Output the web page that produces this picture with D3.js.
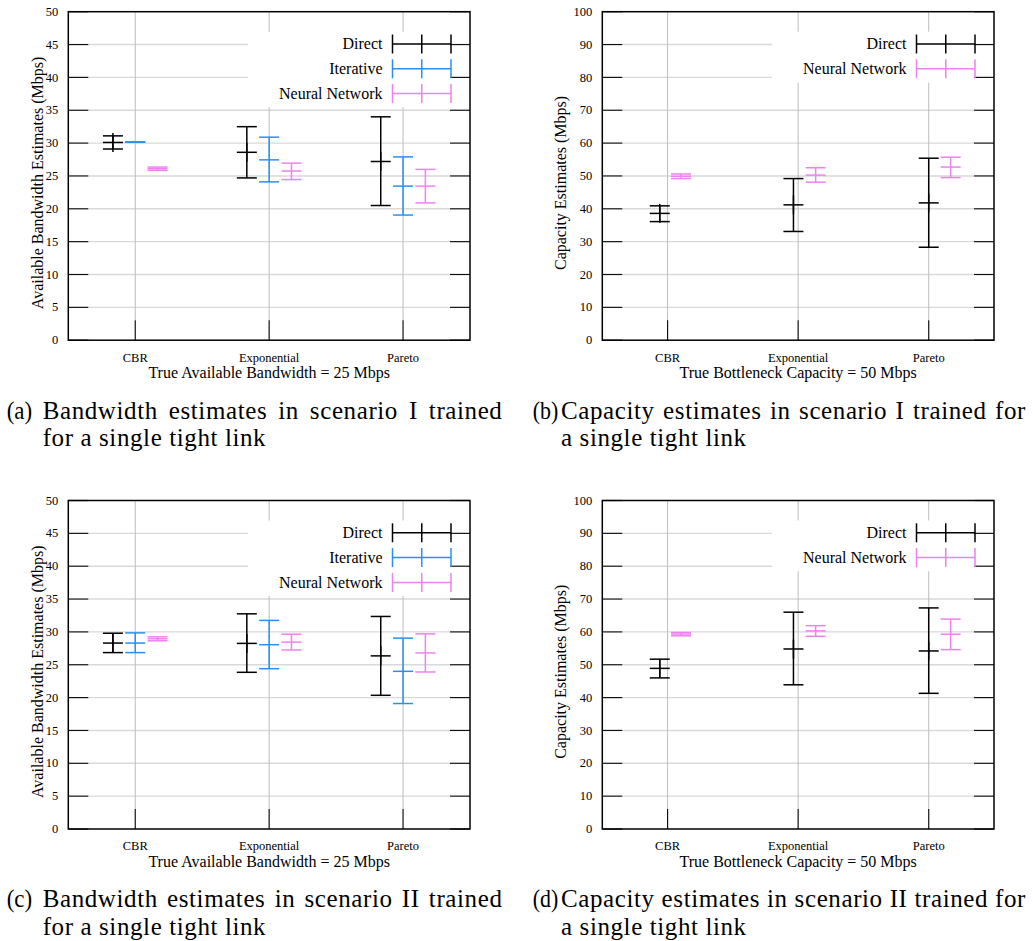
<!DOCTYPE html>
<html><head><meta charset="utf-8">
<script src="https://cdn.jsdelivr.net/npm/d3@7"></script>
<style>body{margin:0;background:#fff} svg{display:block}</style>
</head><body>
<svg id="chart" width="1033" height="941"></svg>
<script>
// ---------- data ----------
const categories = ["CBR", "Exponential", "Pareto"];
const bwTicks = [0, 5, 10, 15, 20, 25, 30, 35, 40, 45, 50];
const capTicks = [0, 10, 20, 30, 40, 50, 60, 70, 80, 90, 100];
const seriesNames = ["Direct", "Iterative", "Neural Network"];
const seriesColors = ["#000000", "#2a8ff5", "#ee82ee"];
const seriesMarkerHalf = [9.5, 0, 0];

// x positions (category index units) of each series
const threeSeriesX = [[0.8333, 1.8333, 2.8333], [1, 2, 3], [1.1667, 2.1667, 3.1667]];
const twoSeriesX = [[0.94, 1.964, 3.0], [1.103, 2.134, 3.168]];

// (a) scenario I bandwidth
const aDirectMean = [30.1, 28.6, 27.2];
const aDirectLow  = [29.1, 24.7, 20.5];
const aDirectHigh = [31.1, 32.5, 34.0];
const aIterMean = [30.15, 27.45, 23.45];
const aIterLow  = [30.15, 24.1, 19.05];
const aIterHigh = [30.15, 30.9, 27.9];
const aNNMean = [26.1, 25.75, 23.45];
const aNNLow  = [25.85, 24.45, 20.9];
const aNNHigh = [26.35, 26.95, 26.0];

// (b) scenario I capacity
const bDirectMean = [38.6, 41.2, 41.8];
const bDirectLow  = [36.1, 33.1, 28.3];
const bDirectHigh = [40.9, 49.2, 55.4];
const bNNMean = [49.9, 50.25, 52.7];
const bNNLow  = [49.2, 48.1, 49.5];
const bNNHigh = [50.6, 52.5, 55.7];

// (c) scenario II bandwidth
const cDirectMean = [28.3, 28.25, 26.35];
const cDirectLow  = [26.85, 23.85, 20.35];
const cDirectHigh = [29.8, 32.75, 32.35];
const cIterMean = [28.3, 28.05, 24.0];
const cIterLow  = [26.85, 24.4, 19.1];
const cIterHigh = [29.85, 31.75, 29.05];
const cNNMean = [28.95, 28.45, 26.8];
const cNNLow  = [28.65, 27.25, 23.9];
const cNNHigh = [29.25, 29.65, 29.7];

// (d) scenario II capacity
const dDirectMean = [48.9, 54.8, 54.2];
const dDirectLow  = [46.0, 43.9, 41.3];
const dDirectHigh = [51.7, 66.0, 67.3];
const dNNMean = [59.35, 60.3, 59.3];
const dNNLow  = [58.8, 58.65, 54.6];
const dNNHigh = [59.8, 61.9, 63.9];

const captionA = ["(a)", "Bandwidth estimates in scenario I trained", "for a single tight link"];
const captionB = ["(b)", "Capacity estimates in scenario I trained for", "a single tight link"];
const captionC = ["(c)", "Bandwidth estimates in scenario II trained", "for a single tight link"];
const captionD = ["(d)", "Capacity estimates in scenario II trained for", "a single tight link"];

const bwTitle = "Available Bandwidth Estimates (Mbps)";
const capTitle = "Capacity Estimates (Mbps)";
const bwXTitle = "True Available Bandwidth = 25 Mbps";
const capXTitle = "True Bottleneck Capacity = 50 Mbps";

// ---------- layout ----------
const svg = d3.select("#chart");
const serif = "'Liberation Serif', serif";

function mk(names, xs, arrs) {
  return names.map((n, i) => {
    const k = seriesNames.indexOf(n);
    return {
      name: n,
      color: seriesColors[k],
      marker: seriesMarkerHalf[k],
      rows: categories.map((c, j) => ({ x: xs[i][j], mean: arrs[i][0][j], low: arrs[i][1][j], high: arrs[i][2][j] }))
    };
  });
}

const rowShift = 488.8;
const panels = [
  { x0: 68.3, x1: 470, y0: 11.7, y1: 340.2, ticks: bwTicks, ytitle: bwTitle, xtitle: bwXTitle, titleX: 42.5,
    series: mk(seriesNames, threeSeriesX, [[aDirectMean, aDirectLow, aDirectHigh], [aIterMean, aIterLow, aIterHigh], [aNNMean, aNNLow, aNNHigh]]),
    caption: captionA, capLX: 6.7, capBX: 42.7, capRX: 502.5, capY: 418.5 },
  { x0: 602.3, x1: 994, y0: 11.7, y1: 340.2, ticks: capTicks, ytitle: capTitle, xtitle: capXTitle, titleX: 565.5,
    series: mk(["Direct", "Neural Network"], twoSeriesX, [[bDirectMean, bDirectLow, bDirectHigh], [bNNMean, bNNLow, bNNHigh]]),
    caption: captionB, capLX: 532.7, capBX: 561, capRX: 1026, capY: 418.5 },
  { x0: 68.3, x1: 470, y0: 11.7 + rowShift, y1: 340.2 + rowShift, ticks: bwTicks, ytitle: bwTitle, xtitle: bwXTitle, titleX: 42.5,
    series: mk(seriesNames, threeSeriesX, [[cDirectMean, cDirectLow, cDirectHigh], [cIterMean, cIterLow, cIterHigh], [cNNMean, cNNLow, cNNHigh]]),
    caption: captionC, capLX: 6.7, capBX: 42.7, capRX: 502.5, capY: 418.5 + rowShift },
  { x0: 602.3, x1: 994, y0: 11.7 + rowShift, y1: 340.2 + rowShift, ticks: capTicks, ytitle: capTitle, xtitle: capXTitle, titleX: 565.5,
    series: mk(["Direct", "Neural Network"], twoSeriesX, [[dDirectMean, dDirectLow, dDirectHigh], [dNNMean, dNNLow, dNNHigh]]),
    caption: captionD, capLX: 532.7, capBX: 561, capRX: 1026, capY: 418.5 + rowShift }
];

panels.forEach(p => {
  const g = svg.append("g");
  const x = d3.scaleLinear().domain([0.5, 3.5]).range([p.x0, p.x1]);
  const y = d3.scaleLinear().domain([0, d3.max(p.ticks)]).range([p.y1, p.y0]);
  const tl = 20;

  // horizontal grid
  g.selectAll(".hg").data(p.ticks.slice(1, -1)).join("line")
    .attr("x1", p.x0 + tl).attr("x2", p.x1 - tl)
    .attr("y1", d => y(d)).attr("y2", d => y(d))
    .attr("stroke", "#d9d9d9").attr("stroke-width", 1.4);
  // vertical grid
  g.selectAll(".vg").data([1, 2, 3]).join("line")
    .attr("x1", d => x(d)).attr("x2", d => x(d))
    .attr("y1", p.y0).attr("y2", p.y1 - tl)
    .attr("stroke", "#bdbdbd").attr("stroke-width", 1);

  // legend background
  const nLeg = p.series.length;
  g.append("rect").attr("x", p.x1 - 222).attr("y", p.y0 + 20)
    .attr("width", 222).attr("height", 24.8 * (nLeg - 1) + 26)
    .attr("fill", "#fff");

  // ticks
  g.selectAll(".lt").data(p.ticks).join("line")
    .attr("x1", p.x0).attr("x2", p.x0 + tl).attr("y1", d => y(d)).attr("y2", d => y(d))
    .attr("stroke", "#111").attr("stroke-width", 1.2);
  g.selectAll(".rt").data(p.ticks).join("line")
    .attr("x1", p.x1 - tl).attr("x2", p.x1).attr("y1", d => y(d)).attr("y2", d => y(d))
    .attr("stroke", "#111").attr("stroke-width", 1.2);
  g.selectAll(".bt").data([1, 2, 3]).join("line")
    .attr("x1", d => x(d)).attr("x2", d => x(d)).attr("y1", p.y1 - tl).attr("y2", p.y1)
    .attr("stroke", "#111").attr("stroke-width", 1.2);

  // frame
  g.append("rect").attr("x", p.x0).attr("y", p.y0).attr("width", p.x1 - p.x0).attr("height", p.y1 - p.y0)
    .attr("fill", "none").attr("stroke", "#000").attr("stroke-width", 1.5);

  // tick labels
  g.selectAll(".yl").data(p.ticks).join("text")
    .attr("x", p.x0 - 10).attr("y", d => y(d)).attr("dy", "0.33em")
    .attr("text-anchor", "end").style("font-family", serif).style("font-size", "12.5px")
    .text(d => d);
  g.selectAll(".xl").data(categories).join("text")
    .attr("x", (d, i) => x(i + 1)).attr("y", p.y1 + 21.3)
    .attr("text-anchor", "middle").style("font-family", serif).style("font-size", "12.5px")
    .text(d => d);

  // axis titles
  g.append("text").attr("x", (p.x0 + p.x1) / 2).attr("y", p.y1 + 37.5)
    .attr("text-anchor", "middle").style("font-family", serif).style("font-size", "16px")
    .text(p.xtitle);
  g.append("text").attr("transform", `translate(${p.titleX},${(p.y0 + p.y1) / 2 + 7}) rotate(-90)`)
    .attr("text-anchor", "middle").style("font-family", serif).style("font-size", "16px")
    .text(p.ytitle);

  // error bars
  const cap = 10;
  p.series.forEach(s => {
    const sg = g.append("g").attr("stroke", s.color).attr("stroke-width", 1.5).attr("fill", "none");
    s.rows.forEach(r => {
      const cx = x(r.x);
      if (r.high > r.low) {
        sg.append("line").attr("x1", cx).attr("x2", cx).attr("y1", y(r.low)).attr("y2", y(r.high));
      }
      if (s.marker > 0) {
        sg.append("line").attr("x1", cx).attr("x2", cx)
          .attr("y1", y(r.mean) - s.marker).attr("y2", y(r.mean) + s.marker);
      }
      [r.low, r.mean, r.high].forEach(v => {
        sg.append("line").attr("x1", cx - cap).attr("x2", cx + cap).attr("y1", y(v)).attr("y2", y(v));
      });
    });
  });

  // legend
  p.series.forEach((s, i) => {
    const ly = p.y0 + 32.3 + 24.8 * i;
    g.append("text").attr("x", p.x1 - 87.5).attr("y", ly).attr("dy", "0.33em")
      .attr("text-anchor", "end").style("font-family", serif).style("font-size", "16px")
      .text(s.name);
    const lx1 = p.x1 - 77.5, lx2 = p.x1 - 19, lm = (lx1 + lx2) / 2;
    const lg = g.append("g").attr("stroke", s.color).attr("stroke-width", 1.5);
    lg.append("line").attr("x1", lx1).attr("x2", lx2).attr("y1", ly).attr("y2", ly);
    [lx1, lm, lx2].forEach(xx => lg.append("line").attr("x1", xx).attr("x2", xx).attr("y1", ly - 9.5).attr("y2", ly + 9.5));
  });

  // caption
  const cf = "'Liberation Serif', serif";
  const cs = "25px";
  g.append("text").attr("x", p.capLX).attr("y", p.capY).style("font-family", cf).style("font-size", cs)
    .attr("textLength", 25.5).attr("lengthAdjust", "spacingAndGlyphs").text(p.caption[0]);
  const t1 = g.append("text").attr("x", p.capBX).attr("y", p.capY).style("font-family", cf).style("font-size", cs)
    .style("letter-spacing", "0.6px").text(p.caption[1]);
  const w = t1.node().getComputedTextLength();
  const nsp = p.caption[1].split(" ").length - 1;
  const extra = (p.capRX - p.capBX - w) / nsp;
  if (extra > 0) t1.style("word-spacing", extra + "px");
  g.append("text").attr("x", p.capBX).attr("y", p.capY + 27.8).style("font-family", cf).style("font-size", cs)
    .style("letter-spacing", "0.6px").text(p.caption[2]);
});
</script>
</body></html>
